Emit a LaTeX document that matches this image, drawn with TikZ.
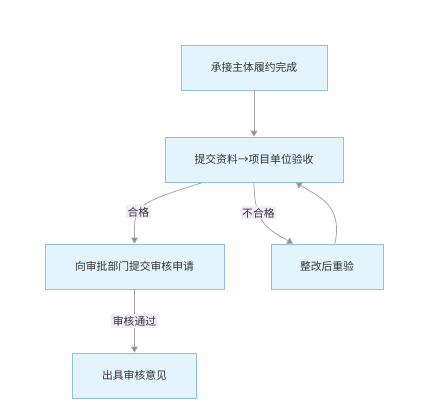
\documentclass[tikz,border=0pt]{standalone}
\usepackage{fontspec}
\newfontfamily\cjk{Noto Sans CJK SC}
\usetikzlibrary{arrows.meta, positioning}
\definecolor{boxfill}{HTML}{E3F4FD}
\definecolor{boxline}{HTML}{8FBDF7}
\definecolor{edgegray}{HTML}{A6A6A6}
\definecolor{labelbg}{HTML}{F3EBFB}
\definecolor{textgray}{HTML}{333333}
\tikzset{
	block/.style={draw=boxline, fill=boxfill, line width=0.8pt, minimum height=45pt, font=\cjk\fontsize{10.8}{12}\selectfont, text=textgray},
	flow/.style={draw=edgegray, line width=0.8pt, -{Triangle[width=7pt,length=6pt,fill=edgegray!85!black]}},
	tag/.style={fill=labelbg, inner sep=1.5pt, font=\cjk\fontsize{10.8}{12}\selectfont, text=textgray}
}
\begin{document}
\begin{tikzpicture}[x=1pt, y=-1pt]
		\useasboundingbox (0,0) rectangle (429,416);
		
		\node[block, minimum width=146pt] (done) at (254,67.5) {承接主体履约完成};
		\node[block, minimum width=178pt] (check) at (254,159.5) {提交资料→项目单位验收};
		\node[block, minimum width=179pt] (apply) at (134.5,266.5) {向审批部门提交审核申请};
		\node[block, minimum width=112pt] (redo) at (327,266.5) {整改后重验};
		\node[block, minimum width=124pt] (result) at (134.5,375.5) {出具审核意见};
		
		\draw[flow] (done) -- (check);
		\draw[flow] ([xshift=-51pt]check.south) .. controls +(-70,22) and +(0,-38) .. (apply.north)
			node[tag, pos=0.6] (ok) {合格};
		\draw[flow] (check.south) .. controls +(0,42) and +(-24,-14) .. ([xshift=-34pt]redo.north)
			node[tag, pos=0.32] (fail) {不合格};
		\draw[flow] ([xshift=8pt]redo.north) .. controls +(8,-40) and +(22,14) .. ([xshift=41.7pt]check.south);
		\draw[flow] (apply) -- (result) node[tag, midway] (pass) {审核通过};
	\end{tikzpicture}
\end{document}
